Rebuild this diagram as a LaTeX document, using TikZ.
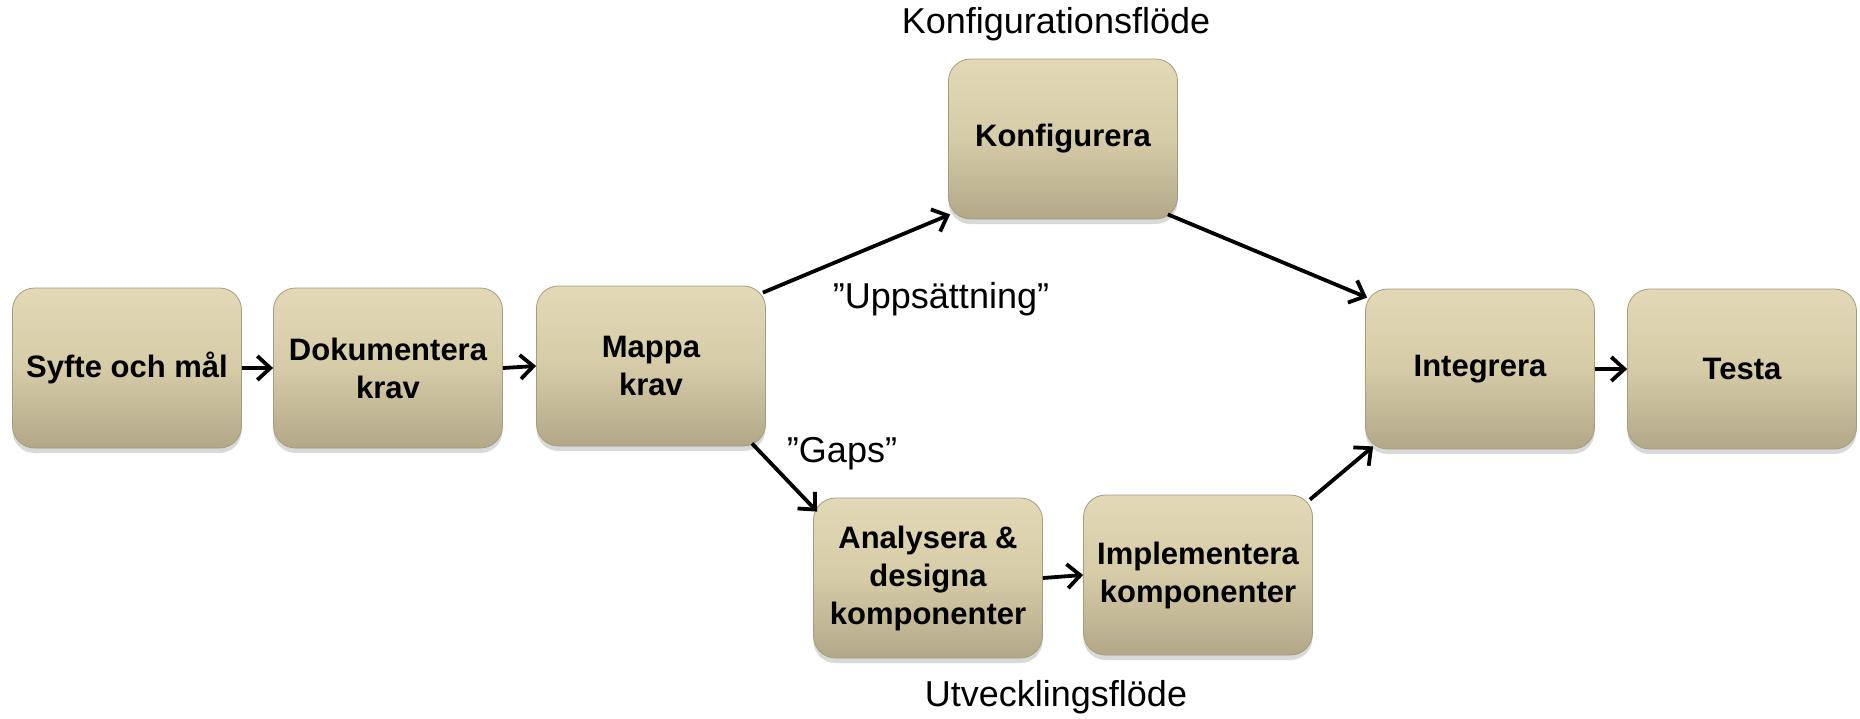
\documentclass[tikz,border=0pt]{standalone}
\usepackage{fontspec}
\setmainfont{Liberation Sans}
\usetikzlibrary{arrows.meta,shadows,calc}
\definecolor{boxtop}{RGB}{228,217,182}
\definecolor{boxmid}{RGB}{214,203,167}
\definecolor{boxbot}{RGB}{178,168,136}
\definecolor{boxrim}{RGB}{165,155,125}
\tikzset{
  stepbox/.style={rectangle, rounded corners=22pt, minimum width=229pt, minimum height=160pt,
    top color=boxtop, bottom color=boxbot, middle color=boxmid, draw=boxrim, line width=0.8pt,
    align=center, font=\fontsize{31}{38}\selectfont\bfseries, inner sep=2pt,
    drop shadow={shadow xshift=0pt, shadow yshift=-5pt, opacity=0.3}},
  flowlabel/.style={font=\fontsize{36}{42}\selectfont, inner sep=0pt},
  conn/.style={line width=3.8pt, -{Straight Barb[length=13pt,width=24pt,line width=3.8pt]}}
}
\begin{document}
\begin{tikzpicture}[x=1pt,y=-1pt]
\useasboundingbox (0,0) rectangle (1860,718);
\node[stepbox] (syfte) at (127,368) {Syfte och mål};
\node[stepbox] (dok) at (388,368) {Dokumentera\\krav};
\node[stepbox] (mappa) at (651,366) {Mappa\\krav};
\node[stepbox] (konfig) at (1063,139) {Konfigurera};
\node[stepbox] (analys) at (928,578) {Analysera \&\\designa\\komponenter};
\node[stepbox] (impl) at (1198,575) {Implementera\\komponenter};
\node[stepbox] (integ) at (1480,369) {Integrera};
\node[stepbox] (testa) at (1742,369) {Testa};

\node[flowlabel] (lkonf) at (1056,24) {Konfigurationsflöde};
\node[flowlabel] (lupp) at (941,299) {”Uppsättning”};
\node[flowlabel] (lgaps) at (842,454) {”Gaps”};
\node[flowlabel] (lutv) at (1056,697) {Utvecklingsflöde};

\draw[conn] (syfte.east) -- (dok.west);
\draw[conn] (dok.east) -- (mappa.west);
\draw[conn] ($(mappa.north east)+(-3,7)$) -- ($(konfig.south west)+(2,-5)$);
\draw[conn] ($(konfig.south east)+(-10,-5)$) -- ($(integ.north west)+(2,9)$);
\draw[conn] ($(mappa.south east)+(-14,-3)$) -- ($(analys.north west)+(4,14)$);
\draw[conn] (analys.east) -- (impl.west);
\draw[conn] ($(impl.north east)+(-3,5)$) -- ($(integ.south west)+(8,-3)$);
\draw[conn] (integ.east) -- (testa.west);
\end{tikzpicture}
\end{document}
